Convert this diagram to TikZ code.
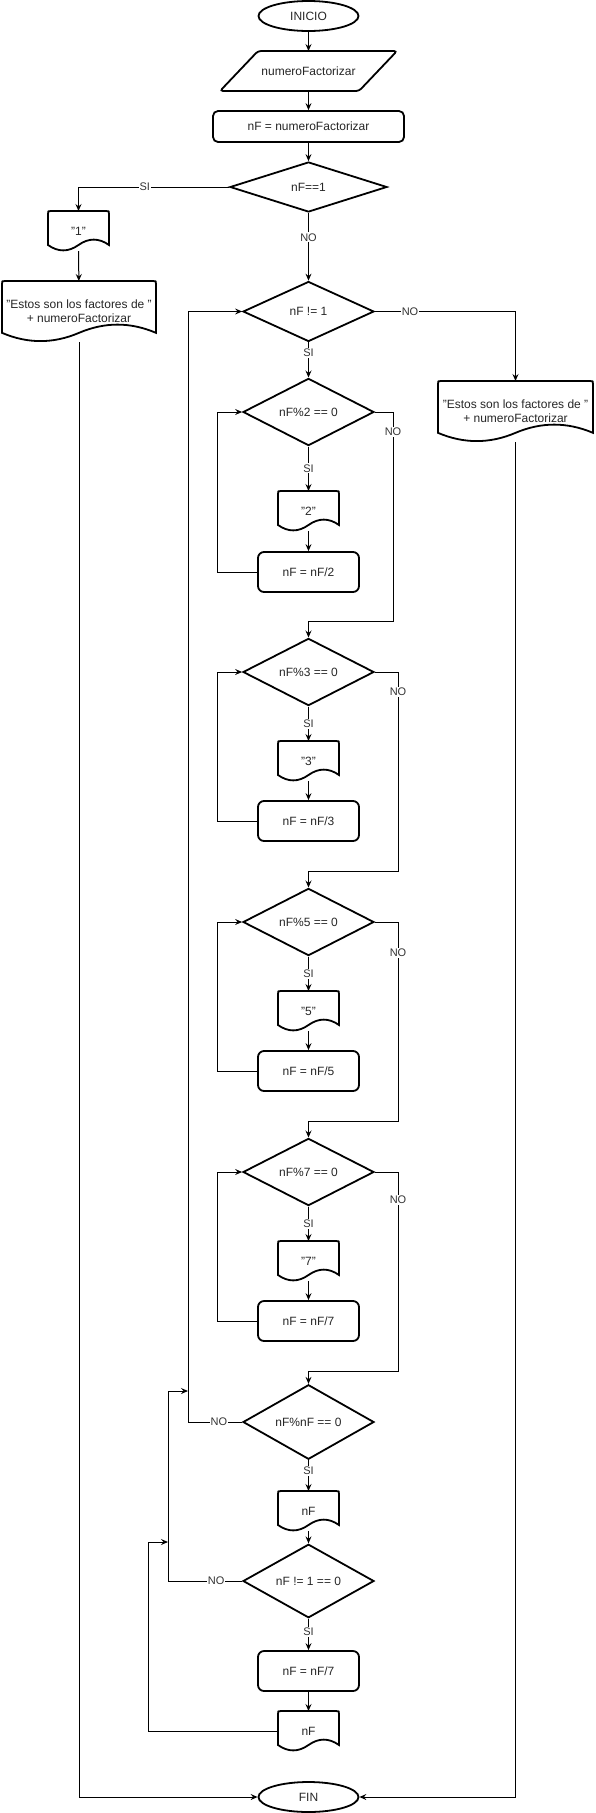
\documentclass[tikz,border=0pt]{standalone}
\usepackage{fontspec}
\setmainfont{Liberation Sans}
\usetikzlibrary{shapes.geometric,arrows.meta,calc}
\tikzset{
  shp/.style={draw=black, line width=1.8pt, inner sep=0pt, font=\fontsize{12}{14}\selectfont, text=black!85, align=center},
  box/.style={rectangle, draw=none, inner sep=0pt, outer sep=0pt, font=\fontsize{12}{14}\selectfont, text=black!85, align=center},
  rrect/.style={shp, rectangle, rounded corners=6pt, minimum width=101, minimum height=40},
  dia/.style={shp, diamond, minimum width=131, minimum height=60},
  ell/.style={shp, ellipse, minimum width=100, minimum height=30},
  conn/.style={draw=black, line width=1pt, -{Stealth[length=7pt,width=6pt,inset=2.5pt]}},
  lbl/.style={fill=white, inner sep=1pt, font=\fontsize{11}{13}\selectfont, text=black!80}
}
\newcommand\docnode[6]{%
  \node[box, minimum width=#4, minimum height=#5] (#1) at (#2,{#3+#5/2}) {#6};
  \draw[shp] ({#2-#4/2},{#3+0.85*#5}) -- ({#2-#4/2},{#3+3})
    .. controls ({#2-#4/2},#3) .. ({#2-#4/2+3},#3) -- ({#2+#4/2-3},#3)
    .. controls ({#2+#4/2},#3) .. ({#2+#4/2},{#3+3}) -- ({#2+#4/2},{#3+0.85*#5})
    .. controls ({#2+#4/3},{#3+0.67*#5}) and ({#2+#4/6},{#3+0.67*#5}) .. (#2,{#3+0.85*#5})
    .. controls ({#2-#4/6},{#3+1.03*#5}) and ({#2-#4/3},{#3+1.03*#5}) .. ({#2-#4/2},{#3+0.85*#5}) -- cycle;
}
\begin{document}
\begin{tikzpicture}[x=1pt,y=-1pt]
\useasboundingbox (0,0) rectangle (595,1813);
% top
\node[ell] (ini) at (308.5,16) {INICIO};
\node[box, minimum width=177, minimum height=40] (inp) at (308.5,71) {numeroFactorizar};
\draw[shp, rounded corners=3pt] ($(inp.north west)+(38,0)$) -- (inp.north east) -- ($(inp.south east)+(-38,0)$) -- (inp.south west) -- cycle;
\node[rrect, minimum width=191, minimum height=31, rounded corners=5pt] (r1) at (308.5,126.5) {nF = numeroFactorizar};
\node[dia, minimum width=157, minimum height=50] (d1) at (308.5,187) {nF==1};
\docnode{doc1}{78.5}{211}{61}{40}{"1"}
\docnode{estL}{79}{281}{154}{61}{"Estos son los factores de "\\+ numeroFactorizar}
\node[dia] (d2) at (308.5,311.5) {nF != 1};
\docnode{estR}{515.5}{381}{155}{61}{"Estos son los factores de "\\+ numeroFactorizar}
% block 2
\node[dia] (d3) at (308.5,412) {nF\%2 == 0};
\docnode{doc2}{308.5}{491}{61}{40}{"2"}
\node[rrect] (r2) at (308.5,572) {nF = nF/2};
% block 3
\node[dia] (d4) at (308.5,672) {nF\%3 == 0};
\docnode{doc3}{308.5}{741}{61}{40}{"3"}
\node[rrect] (r3) at (308.5,821) {nF = nF/3};
% block 5
\node[dia] (d5) at (308.5,922) {nF\%5 == 0};
\docnode{doc5}{308.5}{991}{61}{40}{"5"}
\node[rrect] (r5) at (308.5,1071) {nF = nF/5};
% block 7
\node[dia] (d7) at (308.5,1172) {nF\%7 == 0};
\docnode{doc7}{308.5}{1241}{61}{40}{"7"}
\node[rrect] (r7) at (308.5,1321) {nF = nF/7};
% last part
\node[dia] (d8) at (308.5,1422) {nF\%nF == 0};
\docnode{docn1}{308.5}{1491}{61}{40}{nF}
\node[dia] (d9) at (308.5,1581) {nF != 1 == 0};
\node[rrect] (r9) at (308.5,1671) {nF = nF/7};
\docnode{docn2}{308.5}{1711}{61}{40}{nF}
\node[ell] (fin) at (308.5,1797) {FIN};
% junctions
\coordinate (j3) at (393,621);
\coordinate (j4) at (398,871);
\coordinate (j5) at (398,1121);
\coordinate (j7) at (398,1371);
\coordinate (jA) at (188,1391);
\coordinate (jB) at (168,1542);
% connectors
\draw[conn] (ini) -- (inp);
\draw[conn] (inp) -- (r1);
\draw[conn] (r1) -- (d1);
\draw[conn] (d1) -- node[lbl,pos=0.36]{NO} (d2);
\draw[conn] (d1.west) -| node[lbl,pos=0.28]{SI} (doc1.north);
\draw[conn] (doc1) -- (estL);
\draw[conn] (estL.south) |- (fin.west);
\draw[conn] (d2.east) -| node[lbl,pos=0.125]{NO} (estR.north);
\draw[conn] (estR.south) |- (fin.east);
\draw[conn] (d2) -- node[lbl,pos=0.3]{SI} (d3);
% block 2
\draw[conn] (d3) -- node[lbl,pos=0.49]{SI} (doc2);
\draw[conn] (doc2) -- (r2);
\draw[conn] (r2.west) -- ++(-40,0) |- (d3.west);
\draw[conn] (d3.east) -| node[lbl,pos=0.548]{NO} (j3) -| (d4.north);
% block 3
\draw[conn] (d4) -- node[lbl,pos=0.5]{SI} (doc3);
\draw[conn] (doc3) -- (r3);
\draw[conn] (r3.west) -- ++(-40,0) |- (d4.west);
\draw[conn] (d4.east) -| node[lbl,pos=0.55]{NO} (j4) -| (d5.north);
% block 5
\draw[conn] (d5) -- node[lbl,pos=0.5]{SI} (doc5);
\draw[conn] (doc5) -- (r5);
\draw[conn] (r5.west) -- ++(-40,0) |- (d5.west);
\draw[conn] (d5.east) -| node[lbl,pos=0.578]{NO} (j5) -| (d7.north);
% block 7
\draw[conn] (d7) -- node[lbl,pos=0.5]{SI} (doc7);
\draw[conn] (doc7) -- (r7);
\draw[conn] (r7.west) -- ++(-40,0) |- (d7.west);
\draw[conn] (d7.east) -| node[lbl,pos=0.57]{NO} (j7) -| (d8.north);
% last part
\draw[conn] (d8.west) -- node[lbl,pos=0.43]{NO} ++(-54,0) |- (d2.west);
\draw[conn] (d8) -- node[lbl,pos=0.35]{SI} (docn1);
\draw[conn] (docn1) -- (d9);
\draw[conn] (d9.west) -- node[lbl,pos=0.35]{NO} ++(-74,0) |- (jA);
\draw[conn] (d9) -- node[lbl,pos=0.42]{SI} (r9);
\draw[conn] (r9) -- (docn2);
\draw[conn] (docn2.west) -- ++(-130,0) |- (jB);
\end{tikzpicture}
\end{document}
